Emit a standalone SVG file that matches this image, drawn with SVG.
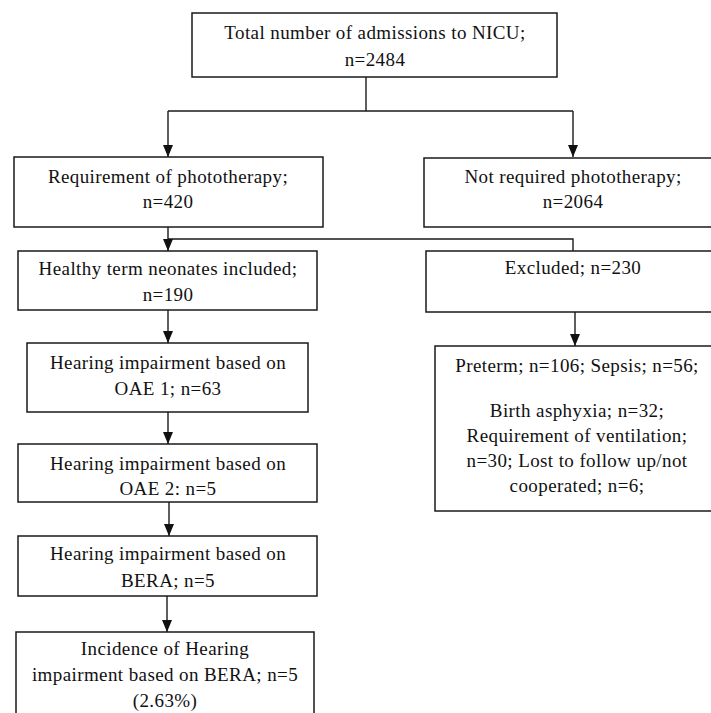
<svg xmlns="http://www.w3.org/2000/svg" width="711" height="713" viewBox="0 0 711 713">
<style>
.box{fill:#fff;stroke:#1a1a1a;stroke-width:1.5}
.t{font-family:'Liberation Serif','DejaVu Serif','Times New Roman',serif;font-size:19px;fill:#111;text-anchor:middle;letter-spacing:0.4px}
.c{fill:none;stroke:#1a1a1a;stroke-width:1.4}
</style>
<defs>
<marker id="ah" markerUnits="userSpaceOnUse" markerWidth="12" markerHeight="10" viewBox="0 0 12 10" refX="12" refY="5" orient="auto">
<path d="M0,0 L12,5 L0,10 Z" fill="#111"/>
</marker>
</defs>
<rect width="711" height="713" fill="#fff"/>
<g id="connectors">
<path class="c" d="M366,77 V111"/>
<path class="c" d="M168,111 H573"/>
<path class="c" d="M168,111 V157" marker-end="url(#ah)"/>
<path class="c" d="M573,111 V157" marker-end="url(#ah)"/>
<path class="c" d="M168,227 V239 H573 V251"/>
<path class="c" d="M168,239 V251" marker-end="url(#ah)"/>
<path class="c" d="M168,310 V343" marker-end="url(#ah)"/>
<path class="c" d="M168,412 V444" marker-end="url(#ah)"/>
<path class="c" d="M169,502 V536" marker-end="url(#ah)"/>
<path class="c" d="M167,596 V632" marker-end="url(#ah)"/>
<path class="c" d="M575,312 V346" marker-end="url(#ah)"/>
</g>
<g id="n-total">
<rect class="box" x="192" y="13" width="365" height="64"/>
<text class="t" x="375" y="39" font-family="Liberation Serif, serif">Total number of admissions to NICU;</text>
<text class="t" x="375" y="66">n=2484</text>
</g>
<g id="n-required">
<rect class="box" x="14" y="157" width="309" height="70"/>
<text class="t" x="168" y="183">Requirement of phototherapy;</text>
<text class="t" x="168" y="208">n=420</text>
</g>
<g id="n-notrequired">
<rect class="box" x="424" y="158" width="300" height="69"/>
<text class="t" x="573" y="183">Not required  phototherapy;</text>
<text class="t" x="573" y="208">n=2064</text>
</g>
<g id="n-healthy">
<rect class="box" x="18" y="251" width="299" height="59"/>
<text class="t" x="168" y="275">Healthy term neonates included;</text>
<text class="t" x="168" y="301">n=190</text>
</g>
<g id="n-excluded">
<rect class="box" x="426" y="251" width="298" height="61"/>
<text class="t" x="573" y="274">Excluded; n=230</text>
</g>
<g id="n-oae1">
<rect class="box" x="27" y="343" width="281" height="69"/>
<text class="t" x="168" y="369">Hearing impairment based on</text>
<text class="t" x="168" y="395">OAE 1; n=63</text>
</g>
<g id="n-reasons">
<rect class="box" x="435" y="346" width="290" height="165"/>
<text class="t" x="577" y="372">Preterm; n=106; Sepsis; n=56;</text>
<text class="t" x="577" y="417">Birth asphyxia; n=32;</text>
<text class="t" x="577" y="442">Requirement of ventilation;</text>
<text class="t" x="577" y="467">n=30; Lost to follow up/not</text>
<text class="t" x="577" y="492">cooperated; n=6;</text>
</g>
<g id="n-oae2">
<rect class="box" x="18" y="444" width="299" height="58"/>
<text class="t" x="168" y="470">Hearing impairment based on</text>
<text class="t" x="168" y="495">OAE 2: n=5</text>
</g>
<g id="n-bera">
<rect class="box" x="18" y="536" width="299" height="60"/>
<text class="t" x="168" y="560">Hearing impairment based on</text>
<text class="t" x="168" y="587">BERA; n=5</text>
</g>
<g id="n-incidence">
<rect class="box" x="16" y="632" width="298" height="90"/>
<text class="t" x="165" y="655">Incidence of Hearing</text>
<text class="t" x="165" y="681">impairment based on BERA; n=5</text>
<text class="t" x="165" y="707">(2.63%)</text>
</g>
</svg>
